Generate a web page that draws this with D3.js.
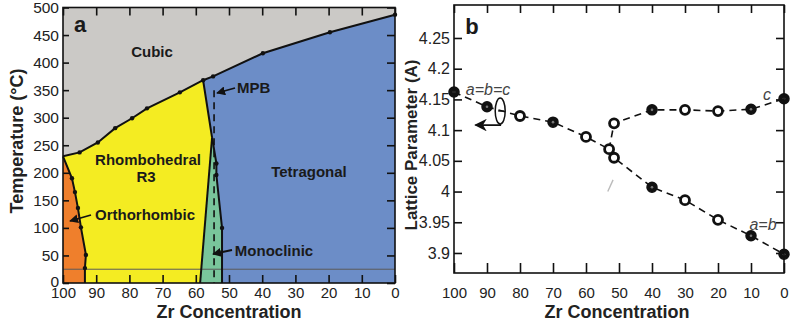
<!DOCTYPE html>
<html>
<head>
<meta charset="utf-8">
<script src="https://cdn.jsdelivr.net/npm/d3@7"></script>
<style>
  body { margin: 0; background: #fff; }
  svg { font-family: "Liberation Sans", Arial, sans-serif; }
  .tick text { fill: #222; }
</style>
</head>
<body>
<svg id="chart" width="796" height="327"></svg>
<script>
// ---- data ----
const zrTicks = [100, 90, 80, 70, 60, 50, 40, 30, 20, 10, 0];
const tempTicks = [0, 50, 100, 150, 200, 250, 300, 350, 400, 450, 500];
const latticeTicks = [3.9, 3.95, 4, 4.05, 4.1, 4.15, 4.2, 4.25];

// panel a: phase boundaries (Zr %, temperature °C)
const cubicZr = [100, 95, 89.5, 84.3, 79.2, 74.7, 64.8, 57.8, 54.8, 39.8, 19.6, 0];
const cubicT  = [230, 237, 255, 281, 299, 317, 346, 368, 375, 417, 455, 487];
const orthoZr = [100, 97.3, 96.4, 95.5, 94.6, 93.1, 93.4, 93.4];
const orthoT  = [230, 190, 165, 136, 101, 51, 27, 0];
const rtZr = [57.8, 55.1];
const rtT  = [368, 264];
const monoLeftZr = [55.1, 58.7];
const monoLeftT  = [264, 0];
const monoRightZr = [55.1, 53.8, 53.8, 52.1, 52.1];
const monoRightT  = [264, 217, 196, 100, 0];
const roomTemp = 25;
const mpbZr = 54.5, mpbTop = 350;

// panel b: lattice parameters
const aZr  = [100, 90, 80, 70, 60, 53, 51.5, 40, 30, 20, 10, 0];
const aVal = [4.162, 4.138, 4.123, 4.113, 4.089, 4.069, 4.055, 4.007, 3.986, 3.954, 3.928, 3.898];
const aFilled = [1, 1, 0, 1, 0, 0, 0, 1, 0, 0, 1, 1];
const cZr  = [53, 51.5, 40, 30, 20, 10, 0];
const cVal = [4.069, 4.111, 4.133, 4.133, 4.131, 4.134, 4.151];
const cFilled = [0, 0, 1, 0, 0, 1, 1];
const ghostZr = [51.8, 53.4];
const ghostVal = [4.019, 4.0];

const colors = { cubic: "#cbc9c6", tetra: "#6c8dc7", rhombo: "#f4ec22", ortho: "#ef7f2c", mono: "#79c59b" };

const svg = d3.select("#chart");
const defs = svg.append("defs");
defs.append("marker").attr("id", "arrow")
  .attr("viewBox", "0 0 10 10").attr("refX", 9).attr("refY", 5)
  .attr("markerWidth", 5).attr("markerHeight", 5).attr("orient", "auto")
  .append("path").attr("d", "M0,0 L10,5 L0,10 z").attr("fill", "#111");
defs.append("marker").attr("id", "arrowBig")
  .attr("viewBox", "0 0 10 10").attr("refX", 9).attr("refY", 5)
  .attr("markerWidth", 7).attr("markerHeight", 7).attr("orient", "auto")
  .append("path").attr("d", "M0,0 L10,5 L0,10 L3,5 z").attr("fill", "#111");

const zip = (xs, ys) => xs.map((x, i) => [x, ys[i]]);

// ================= panel a =================
const xa = d3.scaleLinear().domain([100, 0]).range([63, 395]);
const ya = d3.scaleLinear().domain([0, 500]).range([283, 7.5]);
const la = d3.line().x(d => xa(d[0])).y(d => ya(d[1]));
const ga = svg.append("g");

const cubic = zip(cubicZr, cubicT);
const ortho = zip(orthoZr, orthoT);
const rt = zip(rtZr, rtT);
const monoL = zip(monoLeftZr, monoLeftT);
const monoR = zip(monoRightZr, monoRightT);
const iMpb = cubicZr.indexOf(rtZr[0]);

// cubic background
ga.append("rect").attr("x", xa(100)).attr("y", ya(500))
  .attr("width", xa(0) - xa(100)).attr("height", ya(0) - ya(500))
  .attr("fill", colors.cubic);

// tetragonal
const tetraPoly = cubic.slice(iMpb).concat([[0, 0]], monoR.slice().reverse(), rt.slice().reverse());
ga.append("path").attr("d", la(tetraPoly) + "Z").attr("fill", colors.tetra);
// rhombohedral
const rhomboPoly = cubic.slice(0, iMpb + 1).concat(rt.slice(1), monoL.slice(1), ortho.slice().reverse());
ga.append("path").attr("d", la(rhomboPoly) + "Z").attr("fill", colors.rhombo);
// orthorhombic
const orthoPoly = ortho.concat([[100, 0]]);
ga.append("path").attr("d", la(orthoPoly) + "Z").attr("fill", colors.ortho);
// monoclinic
const monoPoly = monoL.concat(monoR.slice().reverse());
ga.append("path").attr("d", la(monoPoly) + "Z").attr("fill", colors.mono);

// room temperature line
ga.append("line").attr("x1", xa(100)).attr("x2", xa(0))
  .attr("y1", ya(roomTemp)).attr("y2", ya(roomTemp))
  .attr("stroke", "#5a5a5a").attr("stroke-width", 1);

// boundaries
[cubic, ortho, rt, monoL, monoR].forEach(b => {
  ga.append("path").attr("d", la(b)).attr("fill", "none")
    .attr("stroke", "#111").attr("stroke-width", 2);
});
// boundary dots
[cubic.slice(1), ortho.slice(1, -1), monoR.slice(1, -1)].forEach(b => {
  ga.selectAll(null).data(b).enter().append("circle")
    .attr("cx", d => xa(d[0])).attr("cy", d => ya(d[1])).attr("r", 2.2).attr("fill", "#111");
});

// MPB dashed line
ga.append("line").attr("x1", xa(mpbZr)).attr("x2", xa(mpbZr))
  .attr("y1", ya(mpbTop)).attr("y2", ya(0))
  .attr("stroke", "#111").attr("stroke-width", 1.6).attr("stroke-dasharray", "7,5");

// axes panel a
const axA = svg.append("g").attr("class", "axis");
axA.append("g").attr("transform", `translate(0,${ya(0)})`)
  .call(d3.axisBottom(xa).tickValues(zrTicks).tickSize(-8).tickPadding(4))
  .call(g => g.select(".domain").remove())
  .call(g => g.selectAll("text").attr("font-size", 15));
axA.append("g").attr("transform", `translate(0,${ya(500)})`)
  .call(d3.axisTop(xa).tickValues(zrTicks).tickSize(-8).tickFormat(""))
  .call(g => g.select(".domain").remove());
axA.append("g").attr("transform", `translate(${xa(100)},0)`)
  .call(d3.axisLeft(ya).tickValues(tempTicks).tickSize(-6).tickPadding(4))
  .call(g => g.select(".domain").remove())
  .call(g => g.selectAll("text").attr("font-size", 15.5)
    .attr("dy", d => d === 0 ? "0.2em" : "0.32em"));
axA.append("g").attr("transform", `translate(${xa(0)},0)`)
  .call(d3.axisRight(ya).tickValues(tempTicks).tickSize(-8).tickFormat(""))
  .call(g => g.select(".domain").remove());
axA.selectAll(".tick line").attr("stroke", "#111").attr("stroke-width", 1.6);
axA.append("rect").attr("x", xa(100)).attr("y", ya(500))
  .attr("width", xa(0) - xa(100)).attr("height", ya(0) - ya(500))
  .attr("fill", "none").attr("stroke", "#111").attr("stroke-width", 1.6);

svg.append("text").attr("x", 229).attr("y", 318).attr("text-anchor", "middle")
  .attr("font-size", 18).attr("font-weight", "bold").attr("fill", "#222").text("Zr Concentration");
svg.append("text").attr("transform", "translate(23,141) rotate(-90)").attr("text-anchor", "middle")
  .attr("font-size", 18).attr("font-weight", "bold").attr("fill", "#222").text("Temperature (°C)");

const lab = (x, y, t, size = 15) => svg.append("text").attr("x", x).attr("y", y)
  .attr("text-anchor", "middle").attr("font-size", size).attr("font-weight", "bold")
  .attr("fill", "#1a1a1a").text(t);
lab(80, 32, "a", 22);
lab(152, 57, "Cubic");
lab(148, 165, "Rhombohedral");
lab(146, 182, "R3");
lab(309, 177, "Tetragonal");
lab(145, 220, "Orthorhombic");
lab(274, 256, "Monoclinic");
svg.append("text").attr("x", 237).attr("y", 93).attr("font-size", 15).attr("font-weight", "bold")
  .attr("fill", "#1a1a1a").text("MPB");

const arrow = (x1, y1, x2, y2, m = "arrow") => svg.append("line")
  .attr("x1", x1).attr("y1", y1).attr("x2", x2).attr("y2", y2)
  .attr("stroke", "#111").attr("stroke-width", 1.8).attr("marker-end", `url(#${m})`);
arrow(235, 88, 217, 93);
arrow(91, 215, 70, 221);
arrow(232, 250, 213, 254);

// ================= panel b =================
const xb = d3.scaleLinear().domain([100, 0]).range([454, 784]);
const yb = d3.scaleLinear().domain([3.8674, 4.3037]).range([273, 5]);
const lb = d3.line().x(d => xb(d[0])).y(d => yb(d[1]));
const gb = svg.append("g");

const aPts = zip(aZr, aVal);
const cPts = zip(cZr, cVal);

gb.append("path").attr("d", lb(zip(ghostZr, ghostVal))).attr("fill", "none")
  .attr("stroke", "#bbb").attr("stroke-width", 1.4);
[aPts, cPts].forEach(p => {
  gb.append("path").attr("d", lb(p)).attr("fill", "none")
    .attr("stroke", "#111").attr("stroke-width", 1.6).attr("stroke-dasharray", "7,5");
});

const drawPts = (zr, vals, filled, skipFirst) => {
  const pts = zr.map((z, i) => ({ z, v: vals[i], f: filled[i] })).slice(skipFirst ? 1 : 0);
  gb.selectAll(null).data(pts).enter().append("circle")
    .attr("cx", d => xb(d.z)).attr("cy", d => yb(d.v))
    .attr("r", d => d.f ? 5 : 4.5)
    .attr("fill", d => d.f ? "#111" : "#fff")
    .attr("stroke", "#111").attr("stroke-width", d => d.f ? 1.5 : 2.8);
  gb.selectAll(null).data(pts.filter(d => d.f)).enter().append("circle")
    .attr("cx", d => xb(d.z)).attr("cy", d => yb(d.v)).attr("r", 1.3).attr("fill", "#777");
};
drawPts(aZr, aVal, aFilled, false);
drawPts(cZr, cVal, cFilled, true);

// axes panel b
const axB = svg.append("g").attr("class", "axis");
axB.append("g").attr("transform", `translate(0,${yb.range()[0]})`)
  .call(d3.axisBottom(xb).tickValues(zrTicks).tickSize(-10).tickPadding(14))
  .call(g => g.select(".domain").remove())
  .call(g => g.selectAll("text").attr("font-size", 15));
axB.append("g").attr("transform", `translate(0,${yb.range()[1]})`)
  .call(d3.axisTop(xb).tickValues(zrTicks).tickSize(-8).tickFormat(""))
  .call(g => g.select(".domain").remove());
axB.append("g").attr("transform", `translate(${xb(100)},0)`)
  .call(d3.axisLeft(yb).tickValues(latticeTicks).tickSize(-8).tickPadding(4).tickFormat(d => String(d)))
  .call(g => g.select(".domain").remove())
  .call(g => g.selectAll("text").attr("font-size", 16));
axB.append("g").attr("transform", `translate(${xb(0)},0)`)
  .call(d3.axisRight(yb).tickValues(latticeTicks).tickSize(-8).tickFormat(""))
  .call(g => g.select(".domain").remove());
axB.selectAll(".tick line").attr("stroke", "#111").attr("stroke-width", 1.6);
axB.append("rect").attr("x", xb(100)).attr("y", yb.range()[1])
  .attr("width", xb(0) - xb(100)).attr("height", yb.range()[0] - yb.range()[1])
  .attr("fill", "none").attr("stroke", "#111").attr("stroke-width", 1.6);

svg.append("text").attr("x", 617).attr("y", 318).attr("text-anchor", "middle")
  .attr("font-size", 18).attr("font-weight", "bold").attr("fill", "#222").text("Zr Concentration");
svg.append("text").attr("transform", "translate(417,145) rotate(-90)").attr("text-anchor", "middle")
  .attr("font-size", 17).attr("font-weight", "bold").attr("fill", "#222").text("Lattice Parameter (A)");

lab(472, 34, "b", 22);
const ital = (x, y, t) => svg.append("text").attr("x", x).attr("y", y).attr("text-anchor", "middle")
  .attr("font-size", 16).attr("font-style", "italic").attr("fill", "#444").text(t);
ital(488, 95, "a=b=c");
ital(767, 100, "c");
ital(763, 230, "a=b");

// axis-indicator ellipse and arrow
const ex = xb(86), ey = yb(4.131);
svg.append("ellipse").attr("cx", ex).attr("cy", ey).attr("rx", 5).attr("ry", 13)
  .attr("fill", "none").attr("stroke", "#111").attr("stroke-width", 1.5);
svg.append("line").attr("x1", ex - 2).attr("x2", ex + 4).attr("y1", ey).attr("y2", ey)
  .attr("stroke", "#111").attr("stroke-width", 1.2);
svg.append("path").attr("d", `M${ex},${ey + 13} L${ex},${ey + 14} L${xb(93.5)},${ey + 14}`)
  .attr("fill", "none").attr("stroke", "#111").attr("stroke-width", 1.8).attr("marker-end", "url(#arrowBig)");
</script>
</body>
</html>
